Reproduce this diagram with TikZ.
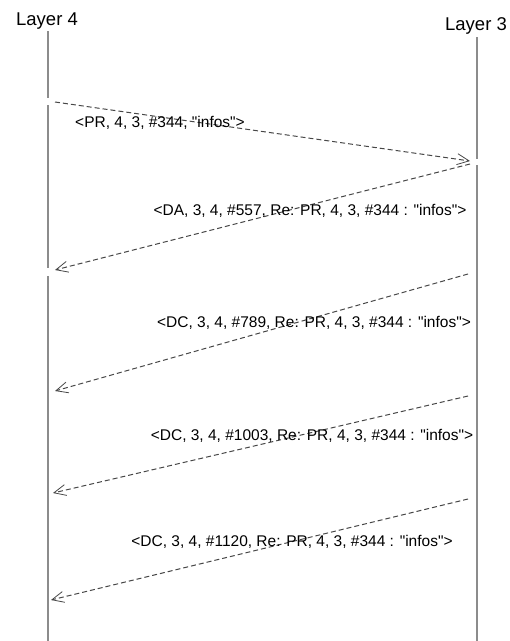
\documentclass[tikz,border=0pt]{standalone}
\usepackage{fontspec}
\setmainfont{Liberation Sans}
\usetikzlibrary{arrows.meta}

\begin{document}
\begin{tikzpicture}[x=1pt,y=-1pt,
  layer/.style={inner sep=0pt,anchor=base,font=\fontsize{18.5}{20}\selectfont},
  msg/.style={inner sep=0pt,anchor=base,font=\fontsize{15.5}{18}\selectfont},
  life/.style={draw=black!45,line width=1.4pt},
  call/.style={draw=black!72,line width=1pt,dash pattern=on 5pt off 3pt,
    -{Straight Barb[length=12pt,width=11pt,line width=0.8pt]}}]
 \useasboundingbox (0,0) rectangle (510,641);

 % layers
 \node[layer] (l4) at (47,25) {Layer 4};
 \node[layer] (l3) at (476,30) {Layer 3};

 % points on the lifelines
 \coordinate (a1) at (55,102);  \coordinate (b1) at (470,161);
 \coordinate (b2) at (470,164); \coordinate (a2) at (55,270);
 \coordinate (b3) at (468,274); \coordinate (a3) at (55,391);
 \coordinate (b4) at (468,396); \coordinate (a4) at (53,493);
 \coordinate (b5) at (468,499); \coordinate (a5) at (51,600);

 % lifeline of layer 4
 \draw[life] (48,31) -- (48,98);
 \draw[life] (48,105) -- (48,268);
 \draw[life] (48,276) -- (48,641);
 % lifeline of layer 3
 \draw[life] (477,37) -- (477,159);
 \draw[life] (477,165) -- (477,396);
 \draw[life,line width=1.9pt] (477,396) -- (477,641);

 % messages
 \draw[call] (a1) -- (b1);
 \node[msg] (m1) at (160,127) {<PR, 4, 3, \#344, \textquotedbl infos\textquotedbl>};

 \draw[call] (b2) -- (a2);
 \node[msg] (m2) at (310,215) {<DA, 3, 4, \#557, Re: PR, 4, 3, \#344 : \textquotedbl infos\textquotedbl>};

 \draw[call] (b3) -- (a3);
 \node[msg] (m3) at (314,327) {<DC, 3, 4, \#789, Re: PR, 4, 3, \#344 : \textquotedbl infos\textquotedbl>};

 \draw[call] (b4) -- (a4);
 \node[msg] (m4) at (312,440) {<DC, 3, 4, \#1003, Re: PR, 4, 3, \#344 : \textquotedbl infos\textquotedbl>};

 \draw[call] (b5) -- (a5);
 \node[msg] (m5) at (292,546) {<DC, 3, 4, \#1120, Re: PR, 4, 3, \#344 : \textquotedbl infos\textquotedbl>};
\end{tikzpicture}
\end{document}
